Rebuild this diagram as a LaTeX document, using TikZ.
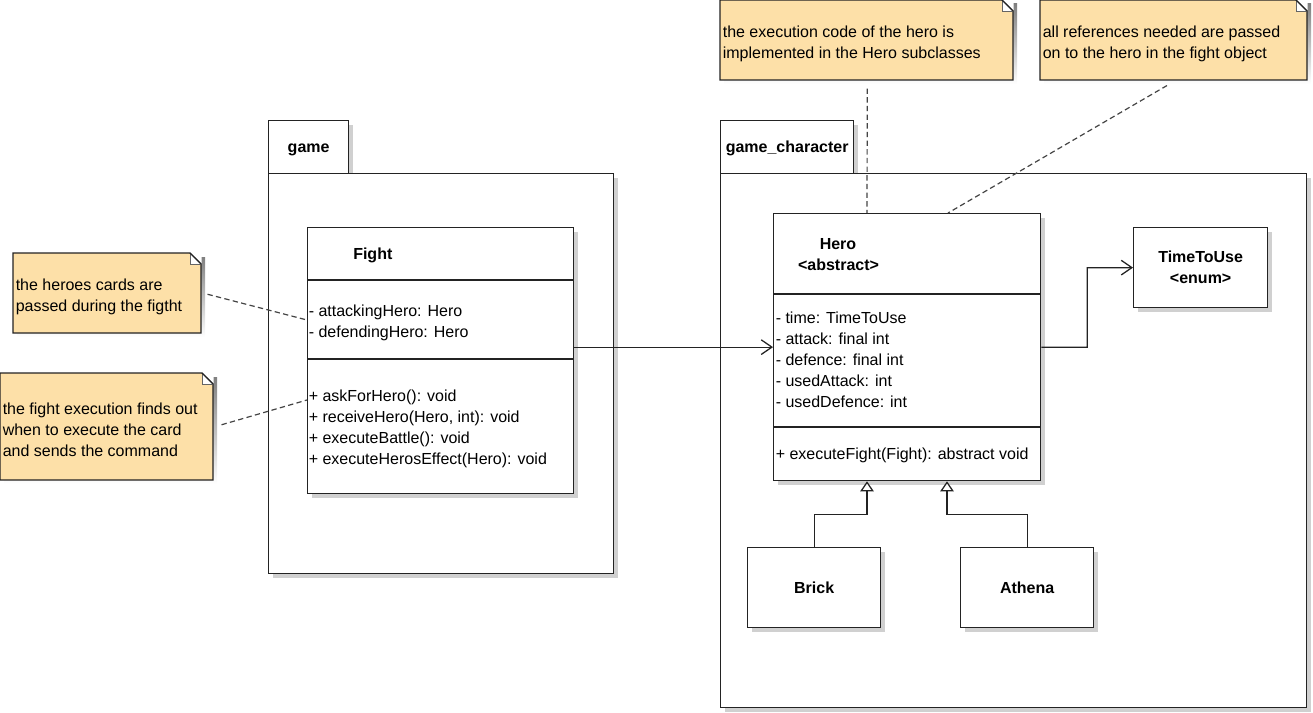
\documentclass[tikz,border=0pt]{standalone}
\usepackage{fontspec}
\setmainfont{Liberation Sans}
\usetikzlibrary{shadows,calc,arrows.meta}

\definecolor{notefill}{RGB}{253,224,168}
\definecolor{shade}{RGB}{208,208,208}
\definecolor{ink}{RGB}{35,35,35}

\tikzset{
  pxsize/.style 2 args={minimum width={#1*0.75pt}, minimum height={#2*0.75pt}},
  umlbox/.style={draw=ink, line width=0.95pt, fill=white, inner sep=0pt, anchor=north west,
    drop shadow={shadow xshift=3pt, shadow yshift=-3pt, fill=shade, opacity=1}},
  txt/.style={inner sep=0pt, font=\fontsize{12}{15.75}\selectfont},
  btxt/.style={inner sep=0pt, font=\fontsize{12}{16}\selectfont\bfseries, align=center},
  notearea/.style={inner sep=0pt, anchor=north west},
  notetext/.style={inner xsep=1.9pt, inner ysep=0pt, anchor=west, align=left,
    font=\fontsize{12}{15.75}\selectfont},
  noteline/.style={draw=ink!85, line width=0.9pt, dash pattern=on 4pt off 2.5pt},
  assoc/.style={draw=ink, line width=0.95pt, -{Straight Barb[length=8pt,width=11pt]}},
  gen/.style={draw=ink, line width=0.95pt, -{Triangle[open,fill=white,length=7.5pt,width=10pt]}},
}

% note outline with folded corner: x, y, width, height (px)
\newcommand\notebg[4]{%
  \fill[shade] (#1+4,#2+4) -- (#1+#3+4,#2+4) -- (#1+#3+4,#2+#4+4) -- (#1+4,#2+#4+4) -- cycle;
  \filldraw[fill=notefill, draw=ink, line width=0.95pt]
    (#1,#2) -- (#1+#3-11,#2) -- (#1+#3,#2+11) -- (#1+#3,#2+#4) -- (#1,#2+#4) -- cycle;
  \filldraw[fill=white, draw=ink!70, line width=0.6pt]
    (#1+#3-11,#2) -- (#1+#3-11,#2+11) -- (#1+#3,#2+11);
  \fill[white] (#1+#3-10.5,#2-0.6) -- (#1+#3+0.6,#2-0.6) -- (#1+#3+0.6,#2+10.5) -- cycle;
  \draw[ink, line width=0.95pt] (#1+#3-11,#2) -- (#1+#3,#2+11);
}

\begin{document}
\begin{tikzpicture}[x=0.75pt,y=-0.75pt]
\useasboundingbox (0,0) rectangle (1313,713);

% packages
\node[umlbox, pxsize={80}{53}] (gametab) at (268,120) {};
\node[umlbox, pxsize={345}{400}] (game) at (268,173) {};
\node[btxt, anchor=base] (gamelbl) at ($(gametab.north)+(0,33)$) {game};

\node[umlbox, pxsize={133}{53}] (chartab) at (720,120) {};
\node[umlbox, pxsize={586}{534}] (gamechar) at (720,173) {};
\node[btxt, anchor=base] (charlbl) at ($(chartab.north)+(0,33)$) {game\_character};

% notes
\notebg{13}{253}{188}{80}
\node[notearea, pxsize={188}{80}] (n1) at (13,253) {};
\node[notetext] (n1t) at ($(n1.west)+(0,3.5)$) {the heroes cards are\\passed during the figtht};
\notebg{0}{373}{213}{107}
\node[notearea, pxsize={213}{107}] (n2) at (0,373) {};
\node[notetext] (n2t) at ($(n2.west)+(0,3)$) {the fight execution finds out\\when to execute the card\\and sends the command};
\notebg{720}{0}{293}{80}
\node[notearea, pxsize={293}{80}] (n3) at (720,0) {};
\node[notetext] (n3t) at ($(n3.west)+(0,3.5)$) {the execution code of the hero is\\implemented in the Hero subclasses};
\notebg{1040}{0}{267}{80}
\node[notearea, pxsize={267}{80}] (n4) at (1040,0) {};
\node[notetext] (n4t) at ($(n4.west)+(0,3.5)$) {all references needed are passed\\on to the hero in the fight object};

% class Fight
\node[umlbox, pxsize={266}{266}] (fight) at (307,227) {};
\draw[ink, line width=0.95pt] ($(fight.north west)+(0,53)$) -- ($(fight.north east)+(0,53)$);
\draw[ink, line width=0.95pt] ($(fight.north west)+(0,132)$) -- ($(fight.north east)+(0,132)$);
\node[btxt, anchor=base west] (fighttitle) at ($(fight.north west)+(46,32)$) {Fight};
\foreach \t [count=\i from 0] in {{- attackingHero: Hero},{- defendingHero: Hero}}
  \node[txt, anchor=base west] (fa\i) at ($(fight.north west)+(1.5,{89+21*\i})$) {\t};
\foreach \t [count=\i from 0] in {{+ askForHero(): void},{+ receiveHero(Hero, int): void},
    {+ executeBattle(): void},{+ executeHerosEffect(Hero): void}}
  \node[txt, anchor=base west] (fm\i) at ($(fight.north west)+(1.5,{174+21*\i})$) {\t};

% class Hero
\node[umlbox, pxsize={267}{267}] (hero) at (773,213) {};
\draw[ink, line width=0.95pt] ($(hero.north west)+(0,81)$) -- ($(hero.north east)+(0,81)$);
\draw[ink, line width=0.95pt] ($(hero.north west)+(0,214)$) -- ($(hero.north east)+(0,214)$);
\node[btxt, anchor=base] (herot1) at ($(hero.north west)+(65,36)$) {Hero};
\node[btxt, anchor=base] (herot2) at ($(hero.north west)+(65.5,57)$) {<abstract>};
\foreach \t [count=\i from 0] in {{- time: TimeToUse},{- attack: final int},{- defence: final int},
    {- usedAttack: int},{- usedDefence: int}}
  \node[txt, anchor=base west] (ha\i) at ($(hero.north west)+(2.5,{110+21*\i})$) {\t};
\node[txt, anchor=base west] (hm0) at ($(hero.north west)+(2.5,246)$) {+ executeFight(Fight): abstract void};

% enum TimeToUse
\node[umlbox, pxsize={134}{80}, btxt, font=\fontsize{12}{15.75}\selectfont\bfseries] (time) at (1133,227)
  {TimeToUse\\<enum>};

% subclasses
\node[umlbox, pxsize={133}{80}, btxt] (brick) at (747,547) {Brick};
\node[umlbox, pxsize={133}{80}, btxt] (athena) at (960,547) {Athena};

% associations
\draw[assoc] (fight.east |- hero.west) -- (hero.west);
\draw[assoc] (hero.east) -- ($(hero.east)!0.5!(hero.east -| time.west)$) |- (time.west);

% generalizations
\draw[gen] (brick.north) |- ($(hero.south west)+(94,33)$) -- ($(hero.south west)+(94,0)$);
\draw[gen] (athena.north) |- ($(hero.south west)+(174,33)$) -- ($(hero.south west)+(174,0)$);

% note anchors
\draw[noteline] ($(n1.east)+(6,1)$) -- ($(fight.north west)+(0,93)$);
\draw[noteline] ($(n2.east)+(8,-2)$) -- ($(fight.north west)+(0,173)$);
\draw[noteline] ($(n3.south)+(0.5,8)$) -- ($(hero.north west)+(94,0)$);
\draw[noteline] ($(n4.south west)+(127,5)$) -- ($(hero.north west)+(175,0)$);
\end{tikzpicture}
\end{document}
